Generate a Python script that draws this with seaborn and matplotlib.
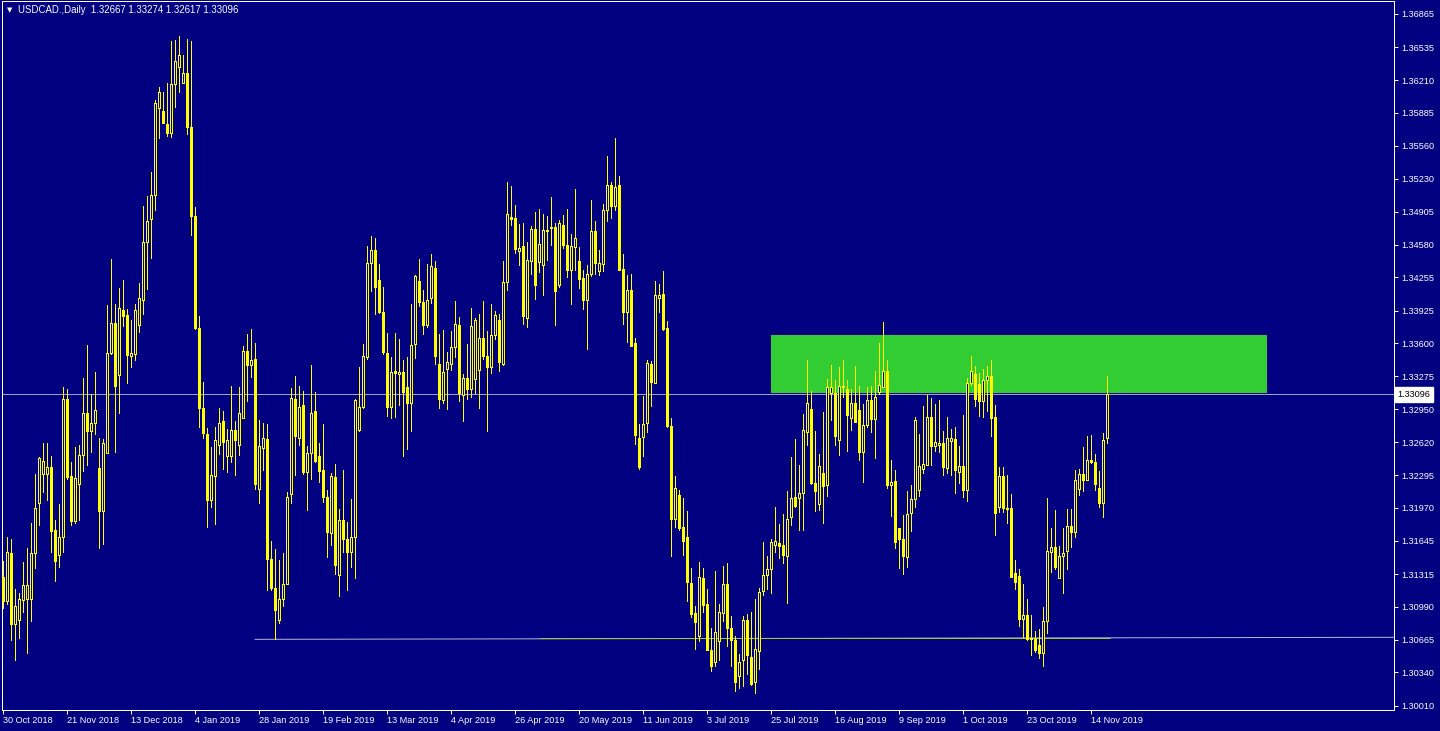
import matplotlib
matplotlib.use('Agg')
import numpy as np
import pandas as pd
import matplotlib.pyplot as plt
import seaborn as sns

# ============ Data ============
symbol_title = 'USDCAD.,Daily  1.32667 1.33274 1.32617 1.33096'
last_price = 1.33096

opens = [1.3129, 1.3105, 1.3152, 1.3082, 1.3086, 1.3106, 1.3107, 1.3107, 1.3152, 1.3202,
         1.3231, 1.3231, 1.3238, 1.3175, 1.3150, 1.3168, 1.3305, 1.3229, 1.3184, 1.3221,
         1.3249, 1.3291, 1.3273, 1.3281, 1.3237, 1.3194, 1.3251, 1.3351, 1.3380, 1.3329,
         1.3393, 1.3388, 1.3348, 1.3350, 1.3378, 1.3403, 1.3461, 1.3483, 1.3507, 1.3593,
         1.3590, 1.3577, 1.3569, 1.3617, 1.3634, 1.3618, 1.3628, 1.3575, 1.3486, 1.3375,
         1.3296, 1.3270, 1.3205, 1.3229, 1.3259, 1.3283, 1.3248, 1.3248, 1.3274, 1.3259,
         1.3286, 1.3353, 1.3339, 1.3345, 1.3216, 1.3256, 1.3265, 1.3146, 1.3118, 1.3086,
         1.3107, 1.3122, 1.3211, 1.3305, 1.3266, 1.3299, 1.3233, 1.3251, 1.3293, 1.3248,
         1.3235, 1.3208, 1.3172, 1.3228, 1.3131, 1.3185, 1.3166, 1.3153, 1.3168, 1.3274,
         1.3297, 1.3347, 1.3440, 1.3453, 1.3423, 1.3391, 1.3351, 1.3297, 1.3333, 1.3330,
         1.3332, 1.3317, 1.3301, 1.3359, 1.3422, 1.3401, 1.3378, 1.3405, 1.3435, 1.3340,
         1.3304, 1.3335, 1.3340, 1.3356, 1.3378, 1.3309, 1.3326, 1.3315, 1.3325, 1.3334,
         1.3365, 1.3348, 1.3337, 1.3368, 1.3383, 1.3340, 1.3421, 1.3485, 1.3484, 1.3452,
         1.3457, 1.3385, 1.3442, 1.3473, 1.3441, 1.3438, 1.3472, 1.3475, 1.3475, 1.3418,
         1.3477, 1.3458, 1.3433, 1.3456, 1.3442, 1.3425, 1.3403, 1.3429, 1.3471, 1.3432,
         1.3439, 1.3492, 1.3517, 1.3496, 1.3517, 1.3434, 1.3391, 1.3413, 1.3360, 1.3266,
         1.3267, 1.3281, 1.3340, 1.3321, 1.3405, 1.3409, 1.3375, 1.3278, 1.3186, 1.3210,
         1.3178, 1.3168, 1.3123, 1.3093, 1.3070, 1.3128, 1.3102, 1.3056, 1.3044, 1.3065,
         1.3093, 1.3122, 1.3078, 1.3066, 1.3030, 1.3046, 1.3086, 1.3049, 1.3025, 1.3055,
         1.3115, 1.3131, 1.3136, 1.3160, 1.3162, 1.3160, 1.3149, 1.3188, 1.3208, 1.3207,
         1.3212, 1.3272, 1.3295, 1.3222, 1.3201, 1.3232, 1.3220, 1.3311, 1.3311, 1.3264,
         1.3318, 1.3315, 1.3286, 1.3301, 1.3294, 1.3252, 1.3279, 1.3304, 1.3285, 1.3312,
         1.3317, 1.3333, 1.3220, 1.3224, 1.3177, 1.3166, 1.3148, 1.3192, 1.3206, 1.3215,
         1.3236, 1.3240, 1.3287, 1.3258, 1.3259, 1.3261, 1.3237, 1.3263, 1.3265, 1.3233,
         1.3239, 1.3215, 1.3321, 1.3330, 1.3320, 1.3303, 1.3324, 1.3328, 1.3287, 1.3198,
         1.3229, 1.3197, 1.3197, 1.3133, 1.3130, 1.3087, 1.3091, 1.3068, 1.3067, 1.3061,
         1.3053, 1.3085, 1.3153, 1.3158, 1.3128, 1.3149, 1.3154, 1.3179, 1.3173, 1.3216,
         1.3231, 1.3225, 1.3245, 1.3243, 1.3217, 1.3202, 1.32667]

highs = [1.3144, 1.3168, 1.3166, 1.3117, 1.3113, 1.3143, 1.3157, 1.3182, 1.3231, 1.3247,
         1.3261, 1.3261, 1.3248, 1.3185, 1.3201, 1.3317, 1.3315, 1.3243, 1.3257, 1.3259,
         1.3326, 1.3358, 1.3310, 1.3332, 1.3266, 1.3265, 1.3398, 1.3444, 1.3399, 1.3415,
         1.3423, 1.3394, 1.3383, 1.3399, 1.3420, 1.3496, 1.3506, 1.3530, 1.3601, 1.3614,
         1.3609, 1.3618, 1.3660, 1.3661, 1.3665, 1.3646, 1.3662, 1.3660, 1.3495, 1.3387,
         1.3322, 1.3276, 1.3257, 1.3277, 1.3296, 1.3293, 1.3275, 1.3318, 1.3283, 1.3317,
         1.3357, 1.3369, 1.3374, 1.3360, 1.3284, 1.3281, 1.3280, 1.3164, 1.3156, 1.3145,
         1.3152, 1.3213, 1.3316, 1.3328, 1.3318, 1.3313, 1.3258, 1.3339, 1.3312, 1.3261,
         1.3280, 1.3215, 1.3232, 1.3241, 1.3196, 1.3235, 1.3183, 1.3206, 1.3305, 1.3337,
         1.3359, 1.3457, 1.3466, 1.3465, 1.3439, 1.3416, 1.3370, 1.3347, 1.3370, 1.3364,
         1.3344, 1.3347, 1.3399, 1.3428, 1.3444, 1.3413, 1.3439, 1.3449, 1.3442, 1.3369,
         1.3373, 1.3352, 1.3372, 1.3402, 1.3386, 1.3330, 1.3359, 1.3395, 1.3385, 1.3389,
         1.3402, 1.3372, 1.3399, 1.3392, 1.3389, 1.3442, 1.3520, 1.3516, 1.3497, 1.3478,
         1.3479, 1.3461, 1.3476, 1.3490, 1.3493, 1.3488, 1.3486, 1.3505, 1.3479, 1.3482,
         1.3487, 1.3493, 1.3468, 1.3513, 1.3456, 1.3433, 1.3438, 1.3502, 1.3481, 1.3453,
         1.3498, 1.3546, 1.3520, 1.3564, 1.3526, 1.3449, 1.3428, 1.3429, 1.3365, 1.3280,
         1.3308, 1.3344, 1.3343, 1.3422, 1.3419, 1.3432, 1.3382, 1.3286, 1.3229, 1.3215,
         1.3207, 1.3194, 1.3137, 1.3100, 1.3143, 1.3137, 1.3117, 1.3078, 1.3135, 1.3102,
         1.3139, 1.3142, 1.3090, 1.3070, 1.3052, 1.3090, 1.3092, 1.3094, 1.3107, 1.3118,
         1.3163, 1.3149, 1.3166, 1.3198, 1.3181, 1.3191, 1.3214, 1.3247, 1.3265, 1.3240,
         1.3290, 1.3344, 1.3313, 1.3273, 1.3250, 1.3292, 1.3325, 1.3339, 1.3324, 1.3337,
         1.3344, 1.3324, 1.3315, 1.3338, 1.3318, 1.3300, 1.3317, 1.3318, 1.3333, 1.3360,
         1.3381, 1.3344, 1.3245, 1.3235, 1.3177, 1.3190, 1.3214, 1.3220, 1.3287, 1.3270,
         1.3298, 1.3309, 1.3306, 1.3300, 1.3304, 1.3273, 1.3287, 1.3275, 1.3277, 1.3258,
         1.3289, 1.3326, 1.3348, 1.3338, 1.3331, 1.3335, 1.3338, 1.3344, 1.3299, 1.3238,
         1.3238, 1.3230, 1.3211, 1.3145, 1.3136, 1.3122, 1.3107, 1.3091, 1.3075, 1.3077,
         1.3099, 1.3207, 1.3177, 1.3195, 1.3159, 1.3177, 1.3196, 1.3196, 1.3235, 1.3236,
         1.3257, 1.3268, 1.3269, 1.3250, 1.3234, 1.3271, 1.33274]

lows = [1.3098, 1.3102, 1.3066, 1.3046, 1.3068, 1.3094, 1.3053, 1.3085, 1.3137, 1.3180,
        1.3213, 1.3205, 1.3153, 1.3125, 1.3138, 1.3153, 1.3226, 1.3180, 1.3182, 1.3185,
        1.3234, 1.3240, 1.3252, 1.3270, 1.3157, 1.3161, 1.3251, 1.3350, 1.3252, 1.3291,
        1.3377, 1.3321, 1.3337, 1.3344, 1.3371, 1.3389, 1.3414, 1.3445, 1.3492, 1.3564,
        1.3578, 1.3566, 1.3565, 1.3594, 1.3609, 1.3618, 1.3568, 1.3467, 1.3374, 1.3277,
        1.3266, 1.3178, 1.3198, 1.3181, 1.3250, 1.3236, 1.3233, 1.3243, 1.3230, 1.3249,
        1.3286, 1.3303, 1.3327, 1.3216, 1.3202, 1.3235, 1.3116, 1.3116, 1.3067, 1.3083,
        1.3100, 1.3122, 1.3202, 1.3230, 1.3259, 1.3231, 1.3195, 1.3226, 1.3243, 1.3223,
        1.3203, 1.3148, 1.3160, 1.3132, 1.3110, 1.3153, 1.3116, 1.3138, 1.3128, 1.3273,
        1.3296, 1.3345, 1.3412, 1.3389, 1.3390, 1.3350, 1.3288, 1.3286, 1.3287, 1.3299,
        1.3248, 1.3255, 1.3273, 1.3346, 1.3397, 1.3369, 1.3376, 1.3400, 1.3340, 1.3296,
        1.3301, 1.3295, 1.3334, 1.3347, 1.3303, 1.3283, 1.3305, 1.3307, 1.3311, 1.3296,
        1.3345, 1.3273, 1.3331, 1.3364, 1.3333, 1.3339, 1.3413, 1.3477, 1.3450, 1.3438,
        1.3379, 1.3376, 1.3429, 1.3404, 1.3431, 1.3408, 1.3443, 1.3458, 1.3378, 1.3416,
        1.3455, 1.3426, 1.3399, 1.3433, 1.3415, 1.3394, 1.3355, 1.3427, 1.3429, 1.3428,
        1.3432, 1.3481, 1.3484, 1.3492, 1.3433, 1.3379, 1.3361, 1.3357, 1.3260, 1.3236,
        1.3248, 1.3272, 1.3298, 1.3321, 1.3391, 1.3373, 1.3277, 1.3149, 1.3178, 1.3175,
        1.3150, 1.3105, 1.3089, 1.3057, 1.3065, 1.3094, 1.3056, 1.3035, 1.3040, 1.3046,
        1.3085, 1.3060, 1.3040, 1.3016, 1.3019, 1.3021, 1.3032, 1.3022, 1.3014, 1.3037,
        1.3111, 1.3117, 1.3113, 1.3153, 1.3147, 1.3142, 1.3103, 1.3180, 1.3198, 1.3175,
        1.3175, 1.3259, 1.3221, 1.3194, 1.3195, 1.3182, 1.3209, 1.3284, 1.3259, 1.3249,
        1.3307, 1.3253, 1.3274, 1.3282, 1.3245, 1.3223, 1.3277, 1.3272, 1.3246, 1.3310,
        1.3317, 1.3217, 1.3189, 1.3157, 1.3137, 1.3132, 1.3138, 1.3174, 1.3198, 1.3209,
        1.3232, 1.3240, 1.3240, 1.3253, 1.3252, 1.3230, 1.3232, 1.3230, 1.3212, 1.3222,
        1.3208, 1.3204, 1.3319, 1.3298, 1.3288, 1.3287, 1.3293, 1.3268, 1.3170, 1.3193,
        1.3193, 1.3182, 1.3129, 1.3117, 1.3080, 1.3069, 1.3066, 1.3051, 1.3054, 1.3048,
        1.3040, 1.3073, 1.3134, 1.3136, 1.3128, 1.3113, 1.3136, 1.3158, 1.3168, 1.3210,
        1.3214, 1.3225, 1.3242, 1.3215, 1.3198, 1.3188, 1.32617]

closes = [1.3105, 1.3153, 1.3082, 1.3100, 1.3107, 1.3121, 1.3121, 1.3152, 1.3197, 1.3246,
          1.3244, 1.3238, 1.3174, 1.3144, 1.3168, 1.3305, 1.3228, 1.3184, 1.3227, 1.3249,
          1.3291, 1.3273, 1.3281, 1.3294, 1.3194, 1.3261, 1.3351, 1.3380, 1.3318, 1.3395,
          1.3387, 1.3349, 1.3351, 1.3393, 1.3405, 1.3461, 1.3481, 1.3507, 1.3598, 1.3609,
          1.3578, 1.3569, 1.3617, 1.3640, 1.3646, 1.3628, 1.3575, 1.3486, 1.3375, 1.3296,
          1.3271, 1.3205, 1.3230, 1.3264, 1.3281, 1.3262, 1.3264, 1.3274, 1.3264, 1.3291,
          1.3353, 1.3339, 1.3344, 1.3221, 1.3258, 1.3266, 1.3146, 1.3118, 1.3096, 1.3107,
          1.3122, 1.3208, 1.3306, 1.3268, 1.3297, 1.3233, 1.3251, 1.3291, 1.3244, 1.3234,
          1.3208, 1.3173, 1.3229, 1.3140, 1.3185, 1.3166, 1.3153, 1.3168, 1.3304, 1.3297,
          1.3348, 1.3440, 1.3453, 1.3416, 1.3391, 1.3352, 1.3297, 1.3332, 1.3331, 1.3332,
          1.3312, 1.3301, 1.3358, 1.3427, 1.3401, 1.3378, 1.3403, 1.3437, 1.3348, 1.3305,
          1.3332, 1.3342, 1.3356, 1.3379, 1.3311, 1.3326, 1.3315, 1.3377, 1.3383, 1.3365,
          1.3348, 1.3337, 1.3368, 1.3388, 1.3342, 1.3421, 1.3488, 1.3483, 1.3454, 1.3455,
          1.3387, 1.3443, 1.3473, 1.3418, 1.3459, 1.3472, 1.3471, 1.3474, 1.3412, 1.3479,
          1.3458, 1.3433, 1.3457, 1.3465, 1.3424, 1.3403, 1.3429, 1.3471, 1.3440, 1.3440,
          1.3492, 1.3517, 1.3496, 1.3515, 1.3433, 1.3391, 1.3413, 1.3357, 1.3269, 1.3238,
          1.3280, 1.3341, 1.3322, 1.3408, 1.3408, 1.3374, 1.3278, 1.3186, 1.3217, 1.3177,
          1.3164, 1.3124, 1.3092, 1.3084, 1.3129, 1.3101, 1.3056, 1.3040, 1.3074, 1.3094,
          1.3122, 1.3078, 1.3066, 1.3025, 1.3044, 1.3086, 1.3051, 1.3023, 1.3057, 1.3114,
          1.3131, 1.3136, 1.3163, 1.3164, 1.3159, 1.3150, 1.3186, 1.3207, 1.3199, 1.3212,
          1.3274, 1.3301, 1.3222, 1.3214, 1.3239, 1.3219, 1.3317, 1.3317, 1.3268, 1.3318,
          1.3317, 1.3289, 1.3301, 1.3282, 1.3252, 1.3279, 1.3304, 1.3285, 1.3307, 1.3319,
          1.3333, 1.3220, 1.3223, 1.3163, 1.3166, 1.3149, 1.3191, 1.3206, 1.3284, 1.3239,
          1.3241, 1.3287, 1.3258, 1.3262, 1.3261, 1.3238, 1.3266, 1.3266, 1.3235, 1.3239,
          1.3215, 1.3321, 1.3333, 1.3305, 1.3303, 1.3324, 1.3328, 1.3286, 1.3192, 1.3229,
          1.3197, 1.3196, 1.3129, 1.3124, 1.3087, 1.3091, 1.3067, 1.3067, 1.3056, 1.3053,
          1.3085, 1.3154, 1.3158, 1.3138, 1.3149, 1.3152, 1.3179, 1.3173, 1.3225, 1.3231,
          1.3225, 1.3245, 1.3243, 1.3221, 1.3202, 1.3264, 1.33096]

date_labels = ['30 Oct 2018', '21 Nov 2018', '13 Dec 2018', '4 Jan 2019', '28 Jan 2019',
               '19 Feb 2019', '13 Mar 2019', '4 Apr 2019', '26 Apr 2019', '20 May 2019',
               '11 Jun 2019', '3 Jul 2019', '25 Jul 2019', '16 Aug 2019', '9 Sep 2019',
               '1 Oct 2019', '23 Oct 2019', '14 Nov 2019']
date_label_step = 16

price_labels = [1.36865, 1.36535, 1.36210, 1.35885, 1.35560, 1.35230, 1.34905, 1.34580,
                1.34255, 1.33925, 1.33600, 1.33275, 1.32950, 1.32620, 1.32295, 1.31970,
                1.31645, 1.31315, 1.30990, 1.30665, 1.30340, 1.30010]

# drawn objects on the chart (bar index / price)
zone_bars = [192, 316]
zone_prices = [1.33109, 1.33684]
support_bars = [63, 347.75]
support_prices = [1.30668, 1.30688]
trend_bars = [134.25, 276.75]
trend_prices = [1.30681, 1.30681]

df = pd.DataFrame({'open': opens, 'high': highs, 'low': lows, 'close': closes})
df['bar'] = np.arange(len(df))
df['bull'] = df['close'] >= df['open']

# ============ Style ============
NAVY = '#000080'
YELLOW = '#ffff00'
PX = 0.72  # one pixel in points at 100 dpi

sns.set_theme(style='dark', rc={
    'figure.facecolor': NAVY,
    'axes.facecolor': NAVY,
    'axes.edgecolor': 'white',
    'axes.linewidth': PX,
    'axes.grid': False,
    'text.color': 'white',
    'xtick.color': 'white',
    'ytick.color': 'white',
})
plt.rcParams['font.family'] = ['Liberation Sans', 'DejaVu Sans']

W, H = 1440, 731
fig = plt.figure(figsize=(W / 100, H / 100), dpi=100)
ax = fig.add_axes([2 / W, 21 / H, 1392 / W, 709 / H])

# ============ Chart objects ============
ax.fill_between(zone_bars, zone_prices[0], zone_prices[1], color='#32cd32', lw=0, zorder=1)
ax.axhline(last_price, color='#a0a0c0', lw=PX, zorder=2)
ax.plot(support_bars, support_prices, color='#b4b4d8', lw=PX, zorder=2)
ax.plot(trend_bars, trend_prices, color='#9acd32', lw=PX, zorder=2)

# ============ Candles ============
ax.vlines(df['bar'], df['low'], df['high'], color=YELLOW, lw=PX, antialiased=False, zorder=3)
body_low = df[['open', 'close']].min(axis=1)
body_h = (df['close'] - df['open']).abs()
face = np.where(df['bull'], NAVY, YELLOW)
ax.bar(df['bar'], body_h, bottom=body_low, width=0.5, color=face, edgecolor=YELLOW,
       linewidth=PX, antialiased=False, zorder=4)

# ============ Axes ============
ax.set_xlim(-0.25, 347.75)
ax.set_ylim(1.299676, 1.369938)

ax.set_xticks(np.arange(len(date_labels)) * date_label_step)
ax.set_xticklabels(date_labels, ha='left')
ax.set_yticks(price_labels)
ax.set_yticklabels([f'{p:.5f}' for p in price_labels])
ax.yaxis.tick_right()
ax.tick_params(axis='x', bottom=True, length=3, width=PX, pad=1.5, labelsize=6.6, colors='white')
ax.tick_params(axis='y', right=True, left=False, labelright=True, labelleft=False,
               length=3, width=PX, pad=2.5, labelsize=6.6, colors='white')
for s in ax.spines.values():
    s.set_color('white')
    s.set_linewidth(PX)

# current price tag on the price scale
ax.text(1.0025, last_price, f'{last_price:.5f}', transform=ax.get_yaxis_transform(),
        ha='left', va='center', fontsize=6.6, color='black', zorder=10,
        bbox=dict(boxstyle='square,pad=0.3', fc='white', ec='white'), clip_on=False)

# title inside the chart
fig.text(7 / W, 1 - 10 / H, '▼', fontsize=5, color='white', va='center', ha='left',
         family=['DejaVu Sans'])
fig.text(18 / W, 1 - 10 / H, symbol_title, fontsize=6.9, color='white', va='center', ha='left')

fig.savefig('out.png', dpi=100, facecolor=NAVY)
